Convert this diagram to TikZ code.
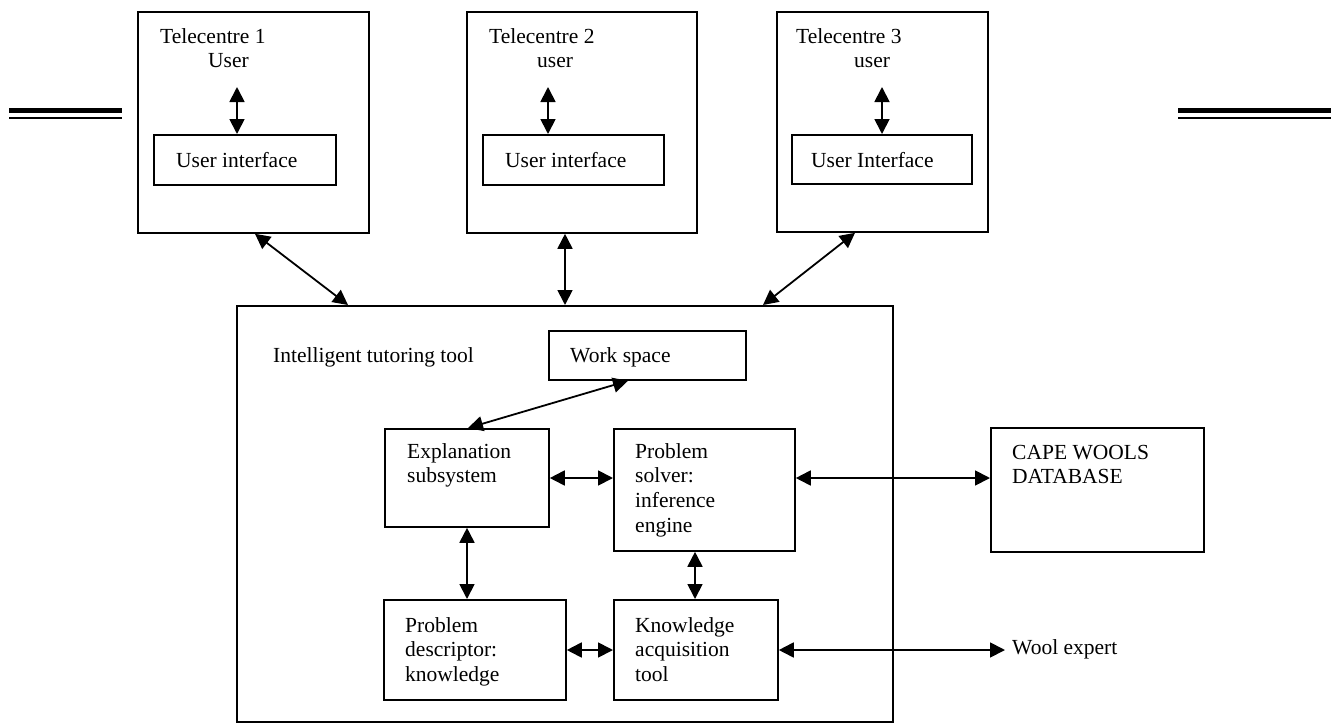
\documentclass[tikz,border=0pt]{standalone}
\usepackage{fontspec}
\setmainfont{Liberation Serif}
\usetikzlibrary{arrows.meta,calc}
\begin{document}
\begin{tikzpicture}[x=1pt,y=-1pt,
  box/.style={draw, line width=1.8pt, inner sep=0pt, anchor=north west},
  lbl/.style={inner sep=0pt, anchor=base west, align=left, font=\fontsize{21.5}{24.8}\selectfont},
  arr/.style={line width=1.8pt, {Triangle[length=15pt,width=15pt]}-{Triangle[length=15pt,width=15pt]}},
  rule/.style={line width=#1}
]
\useasboundingbox (0,0) rectangle (1331,723);

% decorative double rules
\draw[rule=5pt] (9,110.5) -- (122,110.5);
\draw[rule=2pt] (9,118) -- (122,118);
\draw[rule=5pt] (1178,110.5) -- (1331,110.5);
\draw[rule=2pt] (1178,118) -- (1331,118);

% boxes
\node[box, minimum width=231pt, minimum height=221pt] (t1) at (137,11) {};
\node[box, minimum width=230pt, minimum height=221pt] (t2) at (466,11) {};
\node[box, minimum width=211pt, minimum height=220pt] (t3) at (776,11) {};
\node[box, minimum width=182pt, minimum height=50pt] (ui1) at (153,134) {};
\node[box, minimum width=181pt, minimum height=50pt] (ui2) at (482,134) {};
\node[box, minimum width=180pt, minimum height=49pt] (ui3) at (791,134) {};
\node[box, minimum width=656pt, minimum height=416pt] (main) at (236,305) {};
\node[box, minimum width=197pt, minimum height=49pt] (ws) at (548,330) {};
\node[box, minimum width=164pt, minimum height=98pt] (exp) at (384,428) {};
\node[box, minimum width=181pt, minimum height=122pt] (ps) at (613,428) {};
\node[box, minimum width=182pt, minimum height=100pt] (pd) at (383,599) {};
\node[box, minimum width=164pt, minimum height=100pt] (ka) at (613,599) {};
\node[box, minimum width=213pt, minimum height=124pt] (cape) at (990,427) {};

% labels (multi-line labels are anchored at the baseline of their last line)
\node[lbl] (t1a) at (160,43) {Telecentre 1};
\node[lbl] (t1b) at (208,67) {User};
\node[lbl] (t2a) at (489,43) {Telecentre 2};
\node[lbl] (t2b) at (537,67) {user};
\node[lbl] (t3a) at (796,43) {Telecentre 3};
\node[lbl] (t3b) at (854,67) {user};
\node[lbl] (ui1t) at (176,167) {User interface};
\node[lbl] (ui2t) at (505,167) {User interface};
\node[lbl] (ui3t) at (811,167) {User Interface};
\node[lbl] (maint) at (273,362) {Intelligent tutoring tool};
\node[lbl] (wst) at (570,362) {Work space};
\node[lbl] (expt) at (407,482.8) {Explanation\\subsystem};
\node[lbl] (pst) at (635,532.4) {Problem\\solver:\\inference\\engine};
\node[lbl] (pdt) at (405,681.6) {Problem\\descriptor:\\knowledge};
\node[lbl] (kat) at (635,681.6) {Knowledge\\acquisition\\tool};
\node[lbl] (capet) at (1012,483.8) {CAPE WOOLS\\DATABASE};
\node[lbl] (wool) at (1012,654) {Wool expert};

% free ends
\coordinate (u1) at (237,87);
\coordinate (u2) at (548,87);
\coordinate (u3) at (882,87);
\coordinate (wend) at (1005,650);

% connectors
\draw[arr] (u1) -- (u1 |- ui1.north);
\draw[arr] (u2) -- (u2 |- ui2.north);
\draw[arr] (u3) -- (u3 |- ui3.north);
\draw[arr] (255,0 |- t1.south) -- (348,0 |- main.north);
\draw[arr] (565,0 |- t2.south) -- (565,0 |- main.north);
\draw[arr] (855,0 |- t3.south) -- (763,0 |- main.north);
\draw[arr] (628,0 |- ws.south) -- (468,0 |- exp.north);
\draw[arr] (exp.east |- 0,478) -- (ps.west |- 0,478);
\draw[arr] (ps.east |- 0,478) -- (cape.west |- 0,478);
\draw[arr] (467,0 |- exp.south) -- (467,0 |- pd.north);
\draw[arr] (695,0 |- ps.south) -- (695,0 |- ka.north);
\draw[arr] (pd.east |- 0,650) -- (ka.west |- 0,650);
\draw[arr] (ka.east |- wend) -- (wend);
\end{tikzpicture}
\end{document}
